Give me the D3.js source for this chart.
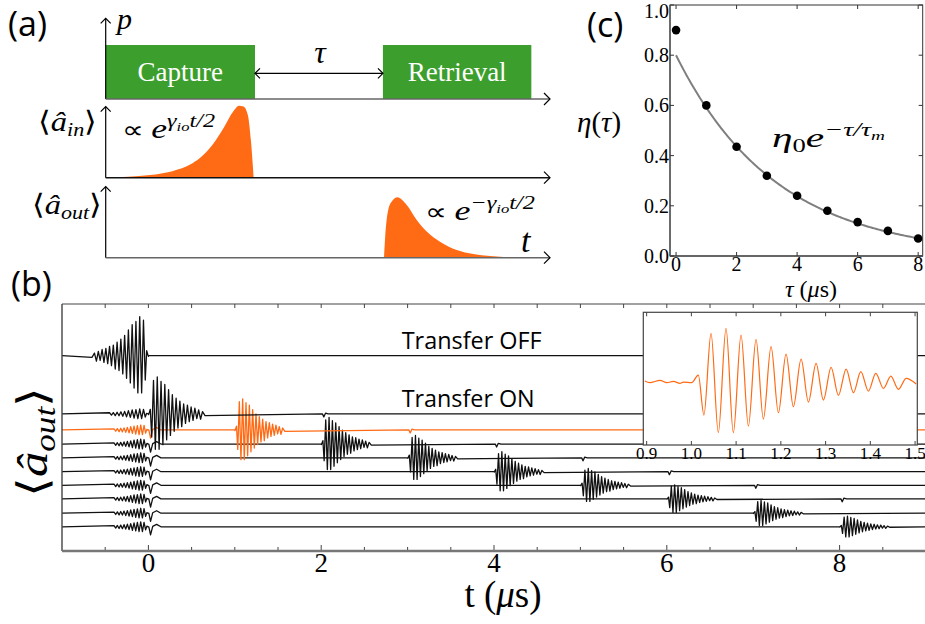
<!DOCTYPE html>
<html><head><meta charset="utf-8">
<script src="https://cdn.jsdelivr.net/npm/d3@7"></script>
</head><body style="margin:0">
<svg id="fig" width="925" height="624" font-family="Liberation Serif"></svg>
<script>
// ================= DATA =================
// Panel (a): schematic protocol (time in arbitrary schematic units)
const phaseNames = ["Capture", "Retrieval"];
const phaseStart = [0, 6.24];
const phaseEnd   = [3.36, 9.58];
const inShapeT  = [0, 0.5, 1.0, 1.5, 1.9, 2.12, 2.4, 2.65, 2.87, 3.0, 3.1, 3.2, 3.27, 3.33];
const inShapeV  = [0.004, 0.012, 0.037, 0.09, 0.18, 0.27, 0.45, 0.68, 0.91, 0.99, 0.98, 0.86, 0.5, 0];
const outShapeT = [6.264, 6.286, 6.36, 6.46, 6.563, 6.775, 7.0, 7.225, 7.524, 7.9, 8.274, 8.65, 9.174];
const outShapeV = [0, 0.24, 0.66, 0.79, 0.83, 0.725, 0.52, 0.36, 0.22, 0.106, 0.05, 0.023, 0];

// Panel (b): measured output traces (vertically offset)
const traceNames  = ["Transfer OFF", "τ=0", "τ=1", "τ=2", "τ=3", "τ=4", "τ=5", "τ=6", "τ=7", "τ=8"];
const traceOffset = [7.91, 5.55, 4.90, 4.33, 3.77, 3.21, 2.66, 2.11, 1.53, 0.98];
const pulseTime   = [0, 0, 1, 2, 3, 4, 5, 6, 7, 8];      // μs
const pulseAmp    = [1.58, 1.50, 1.26, 1.08, 0.91, 0.81, 0.68, 0.57, 0.52, 0.43];
const pulseStretch = [1.3, 1.3, 1.15, 1.15, 1.15, 1.15, 1.15, 1.15, 1.15, 1.15];
const highlightedTrace = 2;
const xTickLabelsB = [0, 2, 4, 6, 8];
const leakAmp = 0.2;
const dipT = [0, 0.02, 0.045, 0.09, 0.14];
const dipV = [0, -0.33, 0.02, 0.1, 0];
const glitchT = [-0.015, 0, 0.02, 0.05];
const glitchV = [0, -0.12, 0.03, 0];

// Inset: zoom on the τ = 1 μs retrieved pulse (extrema)
const insetT = [0.896, 0.907, 0.930, 0.945, 0.960, 0.9745, 0.982, 1.0006, 1.0155,
  1.028, 1.0439, 1.0602, 1.0774, 1.0938, 1.111, 1.1274, 1.1445, 1.1609, 1.1781,
  1.1945, 1.2116, 1.228, 1.2452, 1.2616, 1.2787, 1.2951, 1.3123, 1.3287, 1.3459,
  1.3623, 1.3787, 1.3958, 1.4122, 1.4294, 1.4458, 1.4629, 1.4801, 1.5025];
const insetV = [0.013, -0.02, 0.027, -0.02, 0.007, -0.033, -0.007, -0.02, 0.133,
  -0.667, 0.967, -1.02, 1.067, -1.02, 0.933, -0.887, 0.847, -0.747, 0.70,
  -0.62, 0.553, -0.50, 0.453, -0.407, 0.367, -0.367, 0.287, -0.273, 0.253,
  -0.22, 0.20, -0.187, 0.167, -0.133, 0.113, -0.153, 0.067, -0.047];
const insetTicks = [0.9, 1.0, 1.1, 1.2, 1.3, 1.4, 1.5];

// Panel (c): efficiency vs storage time
const tauVals = [0, 1, 2, 3, 4, 5, 6, 7, 8];
const etaVals = [0.90, 0.60, 0.435, 0.32, 0.24, 0.18, 0.135, 0.10, 0.07];
const fitEta0 = 0.80, fitTauM = 3.3;
const cXTicks = [0, 2, 4, 6, 8];
const cYTicks = [0, 0.2, 0.4, 0.6, 0.8, 1.0];

// ================= STYLE =================
const GREEN = "#3c9e2c", ORANGE = "#ff6a14", GREY = "#666";
const FSERIF = "Liberation Serif, serif";
const FSANS = "Open Sans, sans-serif";
const svg = d3.select("#fig");

function serifText(sel) { return sel.attr("font-family", FSERIF).style("font-family", FSERIF); }
function sansText(sel) { return sel.attr("font-family", FSANS).style("font-family", FSANS); }

function arrowHead(g, x, y, dir, size) {
  size = size || 6;
  let p;
  if (dir === "right") p = `M${x - size},${y - size} L${x},${y} L${x - size},${y + size}`;
  if (dir === "left")  p = `M${x + size},${y - size} L${x},${y} L${x + size},${y + size}`;
  if (dir === "up")    p = `M${x - size},${y + size} L${x},${y} L${x + size},${y + size}`;
  g.append("path").attr("d", p).attr("fill", "none").attr("stroke", "#000").attr("stroke-width", 1.2);
}
function mathText(g, x, y, parts, opts) {
  opts = opts || {};
  const t = serifText(g.append("text")).attr("x", x).attr("y", y)
    .attr("text-anchor", opts.anchor || "start").attr("fill", "#000");
  if (opts.len) t.attr("textLength", opts.len).attr("lengthAdjust", "spacingAndGlyphs");
  parts.forEach(p => {
    const s = t.append("tspan").text(p.s).attr("font-size", p.fs);
    if (p.it) s.attr("font-style", "italic");
    if (p.dy) s.attr("dy", p.dy);
  });
  return t;
}

// ================= PANEL (a) =================
const gA = svg.append("g");
const xA = d3.scaleLinear().domain([0, 10]).range([105.7, 550]);
const yP = d3.scaleLinear().domain([0, 1]).range([99, 45]);
const yIn = d3.scaleLinear().domain([0, 1]).range([177.7, 105]);
const yOut = d3.scaleLinear().domain([0, 1]).range([257.7, 185]);

gA.selectAll("rect.phase").data(phaseNames).join("rect").attr("class", "phase")
  .attr("x", (d, i) => xA(phaseStart[i])).attr("width", (d, i) => xA(phaseEnd[i]) - xA(phaseStart[i]))
  .attr("y", yP(1)).attr("height", yP(0) - yP(1)).attr("fill", GREEN);
serifText(gA.selectAll("text.phase").data(phaseNames).join("text").attr("class", "phase"))
  .attr("x", (d, i) => (xA(phaseStart[i]) + xA(phaseEnd[i])) / 2).attr("y", 81)
  .attr("text-anchor", "middle").attr("font-size", 27).attr("fill", "#fff").text(d => d);

const areaIn = d3.area().x((d, i) => xA(inShapeT[i])).y0(yIn(0)).y1((d, i) => yIn(inShapeV[i])).curve(d3.curveMonotoneX);
gA.append("path").attr("d", areaIn(inShapeT)).attr("fill", ORANGE);
const areaOut = d3.area().x((d, i) => xA(outShapeT[i])).y0(yOut(0)).y1((d, i) => yOut(outShapeV[i])).curve(d3.curveMonotoneX);
gA.append("path").attr("d", areaOut(outShapeT)).attr("fill", ORANGE);

// axes of (a)
[[yP(0), 18.3], [yIn(0), 106.7], [yOut(0), 186.7]].forEach(([y0, tip], k) => {
  gA.append("line").attr("x1", xA(0)).attr("x2", xA(0)).attr("y1", y0).attr("y2", tip).attr("stroke", "#000").attr("stroke-width", 1.2);
  arrowHead(gA, xA(0), tip, "up", 5);
  gA.append("line").attr("x1", xA(0)).attr("x2", xA(10)).attr("y1", y0).attr("y2", y0)
    .attr("stroke", k === 1 ? "#111" : GREY).attr("stroke-width", 1.6);
  arrowHead(gA, xA(10), y0, "right", 6);
});
// tau double arrow
gA.append("line").attr("x1", xA(phaseEnd[0])).attr("x2", xA(phaseStart[1])).attr("y1", 73.3).attr("y2", 73.3).attr("stroke", "#000").attr("stroke-width", 1.2);
arrowHead(gA, xA(phaseEnd[0]), 73.3, "left", 5);
arrowHead(gA, xA(phaseStart[1]), 73.3, "right", 5);
mathText(gA, 320, 63, [{s: "τ", fs: 32, it: 1}], {anchor: "middle"});
mathText(gA, 117, 29, [{s: "p", fs: 30, it: 1}]);
mathText(gA, 521, 252, [{s: "t", fs: 34, it: 1}]);

mathText(gA, 97, 131, [{s: "⟨", fs: 28}, {s: "â", fs: 28, it: 1}, {s: "in", fs: 19, it: 1, dy: 5}, {s: "⟩", fs: 28, dy: -5}], {anchor: "end", len: 59});
mathText(gA, 102, 214, [{s: "⟨", fs: 28}, {s: "â", fs: 28, it: 1}, {s: "out", fs: 19, it: 1, dy: 5}, {s: "⟩", fs: 28, dy: -5}], {anchor: "end", len: 70});
mathText(gA, 122, 138, [{s: "∝ ", fs: 24}, {s: "e", fs: 28, it: 1}, {s: "γ", fs: 19, it: 1, dy: -11}, {s: "io", fs: 13, it: 1, dy: 4}, {s: "t/2", fs: 19, it: 1, dy: -4}], {len: 93});
mathText(gA, 425, 220, [{s: "∝ ", fs: 24}, {s: "e", fs: 28, it: 1}, {s: "−γ", fs: 19, it: 1, dy: -11}, {s: "io", fs: 13, it: 1, dy: 4}, {s: "t/2", fs: 19, it: 1, dy: -4}], {len: 110});

sansText(svg.append("text")).attr("x", 8).attr("y", 36).attr("font-size", 34).text("(a)");
sansText(svg.append("text")).attr("x", 11).attr("y", 296).attr("font-size", 34).text("(b)");
sansText(svg.append("text")).attr("x", 587).attr("y", 37).attr("font-size", 34).text("(c)");

// ================= PANEL (b) =================
const gB = svg.append("g");
const xB = d3.scaleLinear().domain([-1, 9]).range([62, 926]);
const yB = d3.scaleLinear().domain([0, 10]).range([551, 304]);
const wMax = d3.max(insetV, v => Math.abs(v));

function tracePoints(i) {
  const pts = [[-1, 0]];
  const s = pulseStretch[i];
  if (i === 0) {
    // input pulse reflected without capture: time-reversed pulse shape ending at t = 0
    insetT.forEach((t, k) => { if (t >= 1.0) pts.push([pulseTime[i] - s * (t - 1.0), pulseAmp[i] * insetV[k] / wMax]); });
    pts.push([pulseTime[i] + 0.004, 0]);
  } else {
    insetT.forEach((t, k) => { if (t >= 1.0 && t <= 1.35) pts.push([-s * (t - 1.0), leakAmp * insetV[k] / wMax]); });
    if (pulseTime[i] > 0) dipT.forEach((t, k) => pts.push([t + 0.005, dipV[k]]));
    pts.push([pulseTime[i] + 0.001, 0]);
    insetT.forEach((t, k) => { if (t >= 1.0) pts.push([pulseTime[i] + s * (t - 1.0) + 0.002, pulseAmp[i] * insetV[k] / wMax]); });
    const g = pulseTime[i] + 2;
    if (g < 9) glitchT.forEach((t, k) => pts.push([g + t + 0.03, glitchV[k]]));
  }
  pts.push([9, 0]);
  pts.sort((a, b) => a[0] - b[0]);
  return pts;
}
const order = d3.range(traceNames.length).reverse();
order.forEach(i => {
  const line = d3.line().x(d => xB(d[0])).y(d => yB(traceOffset[i] + d[1]));
  gB.append("path").attr("d", line(tracePoints(i))).attr("fill", "none")
    .attr("stroke", i === highlightedTrace ? ORANGE : "#111").attr("stroke-width", 1.3)
    .attr("stroke-linejoin", "round");
});

// frame of (b)
gB.append("line").attr("x1", 62).attr("x2", 62).attr("y1", 304).attr("y2", 551).attr("stroke", "#444").attr("stroke-width", 1.4);
gB.append("line").attr("x1", 62).attr("x2", 925).attr("y1", 304).attr("y2", 304).attr("stroke", "#444").attr("stroke-width", 1.2);
const minorB = d3.range(-0.5, 9, 0.5);
gB.selectAll("line.tt").data(minorB).join("line").attr("class", "tt")
  .attr("x1", d => xB(d)).attr("x2", d => xB(d)).attr("y1", 304).attr("y2", 308).attr("stroke", "#444").attr("stroke-width", 1);
gB.selectAll("line.bt").data(minorB).join("line").attr("class", "bt")
  .attr("x1", d => xB(d)).attr("x2", d => xB(d)).attr("y1", 551).attr("y2", d => xTickLabelsB.includes(d) ? 545 : 547).attr("stroke", "#444").attr("stroke-width", 1);
gB.append("line").attr("x1", 62).attr("x2", 925).attr("y1", 551).attr("y2", 551).attr("stroke", "#777").attr("stroke-width", 2.4);
serifText(gB.selectAll("text.xl").data(xTickLabelsB).join("text").attr("class", "xl"))
  .attr("x", d => xB(d)).attr("y", 572).attr("text-anchor", "middle").attr("font-size", 27).text(d => d);
mathText(gB, 503, 607, [{s: "t (", fs: 37}, {s: "μ", fs: 37, it: 1}, {s: "s)", fs: 37}], {anchor: "middle"});
const yl = mathText(gB, 0, 0, [{s: "⟨", fs: 42}, {s: "â", fs: 42, it: 1}, {s: "out", fs: 29, it: 1, dy: 8}, {s: "⟩", fs: 42, dy: -8}], {anchor: "middle", len: 109});
yl.attr("transform", "translate(47,442) rotate(-90)");

sansText(gB.append("text")).attr("x", 401.7).attr("y", 349).attr("font-size", 24)
  .attr("textLength", 140).attr("lengthAdjust", "spacingAndGlyphs").text(traceNames[0]);
sansText(gB.append("text")).attr("x", 401.7).attr("y", 406.7).attr("font-size", 24)
  .attr("textLength", 133).attr("lengthAdjust", "spacingAndGlyphs").text("Transfer ON");

// inset
const xI = d3.scaleLinear().domain([0.8925, 1.505]).range([643.3, 917.3]);
const yI = d3.scaleLinear().domain([-1.266, 1.388]).range([445, 312.3]);
gB.append("rect").attr("x", xI(0.8925)).attr("y", yI(1.388)).attr("width", xI(1.505) - xI(0.8925))
  .attr("height", yI(-1.266) - yI(1.388)).attr("fill", "#fff").attr("stroke", "#444").attr("stroke-width", 1.2);
const iline = d3.line().x((d, k) => xI(insetT[k])).y((d, k) => yI(insetV[k])).curve(d3.curveMonotoneX);
gB.append("path").attr("d", iline(insetT)).attr("fill", "none").attr("stroke", ORANGE).attr("stroke-width", 1.2);
gB.selectAll("line.it").data(insetTicks).join("line").attr("class", "it")
  .attr("x1", d => xI(d)).attr("x2", d => xI(d)).attr("y1", 445).attr("y2", 441).attr("stroke", "#444");
gB.selectAll("line.it2").data(insetTicks).join("line").attr("class", "it2")
  .attr("x1", d => xI(d)).attr("x2", d => xI(d)).attr("y1", yI(1.388)).attr("y2", yI(1.388) + 4).attr("stroke", "#444");
serifText(gB.selectAll("text.il").data(insetTicks).join("text").attr("class", "il"))
  .attr("x", d => xI(d)).attr("y", 458.5).attr("text-anchor", "middle").attr("font-size", 17).text(d => d3.format(".1f")(d));

// ================= PANEL (c) =================
const gC = svg.append("g");
const xC = d3.scaleLinear().domain([-0.2, 8.15]).range([670, 922.7]);
const yC = d3.scaleLinear().domain([0, 1]).range([256, 5]);
const fitPts = d3.range(0, 8.0001, 0.05).map(t => [t, fitEta0 * Math.exp(-t / fitTauM)]);
gC.append("path").attr("d", d3.line().x(d => xC(d[0])).y(d => yC(d[1]))(fitPts))
  .attr("fill", "none").attr("stroke", "#7f7f7f").attr("stroke-width", 2);
gC.selectAll("circle").data(tauVals).join("circle")
  .attr("cx", d => xC(d)).attr("cy", (d, i) => yC(etaVals[i])).attr("r", 4.3).attr("fill", "#000");
// frame
gC.append("rect").attr("x", 670).attr("y", 5).attr("width", 922.7 - 670).attr("height", 251)
  .attr("fill", "none").attr("stroke", "#333").attr("stroke-width", 1);
gC.append("line").attr("x1", 670).attr("x2", 670).attr("y1", 5).attr("y2", 256).attr("stroke", "#666").attr("stroke-width", 1.8);
gC.append("line").attr("x1", 670).attr("x2", 922.7).attr("y1", 256).attr("y2", 256).attr("stroke", "#666").attr("stroke-width", 1.8);
gC.selectAll("line.cx").data(cXTicks).join("line").attr("class", "cx")
  .attr("x1", d => xC(d)).attr("x2", d => xC(d)).attr("y1", 256).attr("y2", 252).attr("stroke", "#333");
gC.selectAll("line.cx2").data(cXTicks).join("line").attr("class", "cx2")
  .attr("x1", d => xC(d)).attr("x2", d => xC(d)).attr("y1", 5).attr("y2", 9).attr("stroke", "#333");
gC.selectAll("line.cy").data(cYTicks).join("line").attr("class", "cy")
  .attr("x1", 670).attr("x2", 674).attr("y1", d => yC(d)).attr("y2", d => yC(d)).attr("stroke", "#333");
gC.selectAll("line.cy2").data(cYTicks).join("line").attr("class", "cy2")
  .attr("x1", 922.7).attr("x2", 918.7).attr("y1", d => yC(d)).attr("y2", d => yC(d)).attr("stroke", "#333");
serifText(gC.selectAll("text.cxl").data(cXTicks).join("text").attr("class", "cxl"))
  .attr("x", d => xC(d)).attr("y", 271).attr("text-anchor", "middle").attr("font-size", 20).text(d => d);
serifText(gC.selectAll("text.cyl").data(cYTicks).join("text").attr("class", "cyl"))
  .attr("x", 669).attr("y", d => Math.max(yC(d) + 7, 18)).attr("text-anchor", "end").attr("font-size", 20).text(d => d3.format(".1f")(d));
mathText(gC, 811, 297, [{s: "τ", fs: 24, it: 1}, {s: " (", fs: 24}, {s: "μ", fs: 24, it: 1}, {s: "s)", fs: 24}], {anchor: "middle"});
mathText(gC, 577, 132, [{s: "η", fs: 29, it: 1}, {s: "(", fs: 29}, {s: "τ", fs: 29, it: 1}, {s: ")", fs: 29}]);
mathText(gC, 772, 147, [{s: "η", fs: 28, it: 1}, {s: "0", fs: 18, dy: 5}, {s: "e", fs: 28, it: 1, dy: -5}, {s: "−τ/τ", fs: 19, it: 1, dy: -11}, {s: "m", fs: 13, it: 1, dy: 4}], {len: 113});
</script>
</body></html>
